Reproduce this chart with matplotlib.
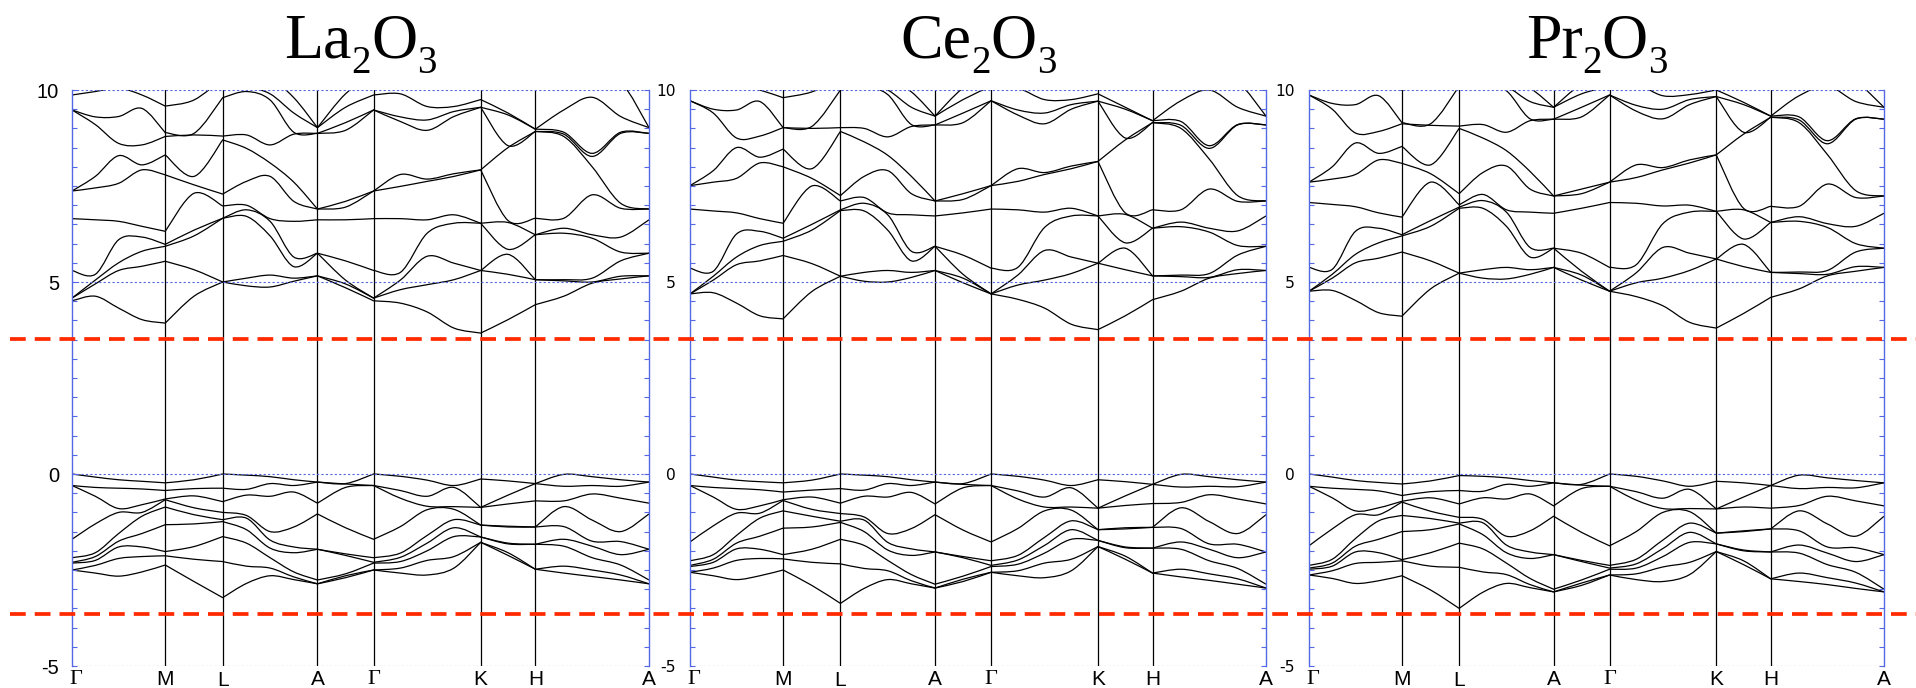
import numpy as np
import matplotlib
matplotlib.use('Agg')
import matplotlib.pyplot as plt
from matplotlib.lines import Line2D
from matplotlib.path import Path
from matplotlib.patches import PathPatch
from matplotlib.transforms import blended_transform_factory, offset_copy

# sample positions along the path (fraction of path length)
kgrid = [0.0, 0.0404, 0.0808, 0.1212, 0.1616, 0.2114, 0.2612, 0.3023, 0.3433,
         0.3844, 0.4254, 0.474, 0.5227, 0.5691, 0.6155, 0.6619, 0.7083, 0.7557,
         0.803, 0.8523, 0.9015, 0.9508, 1.0]
sym_pos = [0.0, 0.1616, 0.2612, 0.4254, 0.5227, 0.7083, 0.803, 1.0]
sym_idx = [0, 4, 6, 10, 12, 16, 18, 22]
sym_labels = ['Γ', 'M', 'L', 'A', 'Γ', 'K', 'H', 'A']

# energies (eV) at each k sample: valence (9 bands) and conduction (12 bands)
la_vb = [
    [0, -0.30, -0.30, -1.70, -2.18, -2.30, -2.32, -2.50, -2.50],
    [-0.08, -0.35, -0.58, -1.30, -2.05, -2.15, -2.25, -2.38, -2.58],
    [-0.15, -0.37, -0.90, -1.00, -1.55, -1.75, -1.90, -2.20, -2.66],
    [-0.19, -0.39, -0.80, -1.00, -1.10, -1.55, -1.90, -2.15, -2.55],
    [-0.23, -0.43, -0.65, -0.67, -0.86, -1.32, -2.02, -2.13, -2.37],
    [-0.15, -0.38, -0.57, -0.88, -1.06, -1.30, -1.89, -2.22, -2.80],
    [0, -0.37, -0.72, -1.00, -1.19, -1.24, -1.63, -2.28, -3.22],
    [-0.03, -0.40, -0.55, -1.08, -1.15, -1.45, -1.80, -2.40, -2.85],
    [-0.07, -0.25, -0.58, -1.50, -1.72, -1.93, -2.18, -2.45, -2.65],
    [-0.15, -0.30, -0.47, -1.38, -1.90, -2.05, -2.55, -2.68, -2.75],
    [-0.21, -0.21, -0.76, -1.04, -1.96, -1.96, -2.76, -2.86, -2.86],
    [-0.25, -0.26, -0.35, -1.40, -2.08, -2.12, -2.60, -2.65, -2.70],
    [0, -0.30, -0.30, -1.70, -2.18, -2.30, -2.32, -2.50, -2.50],
    [-0.06, -0.43, -0.63, -1.37, -2.06, -2.17, -2.28, -2.45, -2.58],
    [-0.16, -0.58, -0.84, -0.93, -1.60, -1.80, -2.00, -2.25, -2.63],
    [-0.30, -0.35, -0.85, -0.92, -1.19, -1.40, -1.63, -2.15, -2.45],
    [-0.13, -0.87, -0.87, -1.33, -1.33, -1.64, -1.64, -1.78, -1.78],
    [-0.18, -0.55, -0.78, -1.36, -1.38, -1.80, -1.82, -2.05, -2.12],
    [-0.25, -0.25, -0.70, -1.38, -1.38, -1.83, -1.83, -2.48, -2.48],
    [-0.01, -0.32, -0.70, -0.85, -1.37, -1.70, -1.88, -2.40, -2.58],
    [-0.07, -0.30, -0.52, -1.20, -1.75, -1.88, -2.18, -2.50, -2.67],
    [-0.15, -0.32, -0.63, -1.50, -1.76, -2.10, -2.37, -2.63, -2.76],
    [-0.21, -0.21, -0.76, -1.04, -1.96, -1.96, -2.76, -2.86, -2.86],
]
la_cb = [
    [4.51, 4.58, 4.58, 5.30, 6.65, 7.37, 7.37, 9.48, 9.48, 9.87, 10.4, 10.6],
    [4.63, 4.95, 5.05, 5.20, 6.62, 7.45, 7.75, 9.10, 9.30, 9.96, 10.4, 10.6],
    [4.32, 5.30, 5.50, 6.10, 6.58, 7.57, 8.29, 8.61, 9.31, 10.05, 10.4, 10.6],
    [4.02, 5.41, 5.80, 6.17, 6.45, 7.92, 8.05, 8.57, 9.52, 9.87, 10.4, 10.6],
    [3.93, 5.54, 5.93, 5.98, 6.32, 7.79, 8.31, 8.79, 8.89, 9.58, 10.4, 10.6],
    [4.63, 5.32, 6.20, 6.35, 7.31, 7.53, 7.75, 8.83, 8.87, 9.74, 10.4, 10.6],
    [5.00, 5.00, 6.66, 6.66, 6.98, 7.29, 8.70, 8.80, 9.80, 10.3, 10.4, 10.6],
    [4.90, 5.10, 6.71, 6.88, 7.00, 7.62, 8.48, 8.83, 9.96, 10.1, 10.4, 10.6],
    [4.87, 5.18, 6.20, 6.58, 6.65, 7.75, 8.10, 8.57, 9.74, 9.90, 10.3, 10.6],
    [5.02, 5.10, 5.40, 5.65, 6.58, 7.10, 7.60, 8.85, 8.90, 9.40, 9.80, 10.5],
    [5.16, 5.16, 5.75, 5.75, 6.62, 6.90, 6.90, 8.87, 8.87, 9.02, 9.02, 10.3],
    [4.85, 4.95, 5.05, 5.55, 6.62, 6.95, 7.10, 8.95, 9.15, 9.55, 9.90, 10.5],
    [4.51, 4.58, 4.58, 5.30, 6.65, 7.37, 7.37, 9.48, 9.48, 9.87, 10.4, 10.6],
    [4.45, 4.80, 5.05, 5.25, 6.65, 7.49, 7.80, 9.18, 9.30, 9.90, 10.3, 10.6],
    [4.22, 4.93, 5.67, 6.27, 6.62, 7.62, 7.68, 8.95, 9.22, 9.57, 10.3, 10.6],
    [3.80, 5.06, 5.49, 6.53, 6.75, 7.75, 7.82, 9.31, 9.44, 9.57, 10.3, 10.6],
    [3.67, 5.30, 5.30, 6.53, 6.53, 7.92, 7.92, 9.55, 9.55, 9.75, 10.3, 10.6],
    [4.02, 5.20, 5.72, 5.85, 6.55, 6.60, 8.50, 8.55, 9.35, 9.40, 10.3, 10.6],
    [4.41, 5.06, 5.06, 6.23, 6.23, 6.66, 8.92, 8.92, 8.98, 8.98, 10.3, 10.6],
    [4.63, 5.03, 5.06, 6.27, 6.40, 6.66, 8.79, 8.85, 8.90, 9.48, 10.3, 10.6],
    [4.97, 5.00, 5.10, 6.14, 6.23, 7.27, 8.00, 8.27, 8.35, 9.81, 10.3, 10.6],
    [5.08, 5.15, 5.55, 5.78, 6.17, 6.92, 7.05, 8.87, 8.90, 9.31, 10.2, 10.5],
    [5.16, 5.16, 5.75, 5.75, 6.62, 6.90, 6.90, 8.87, 8.87, 9.02, 9.02, 10.3],
]

ce_vb = [
    [0, -0.30, -0.30, -1.77, -2.26, -2.38, -2.41, -2.56, -2.56],
    [-0.08, -0.35, -0.60, -1.35, -2.10, -2.22, -2.30, -2.45, -2.65],
    [-0.16, -0.38, -0.92, -1.02, -1.60, -1.80, -1.95, -2.25, -2.75],
    [-0.20, -0.41, -0.83, -1.02, -1.15, -1.62, -1.96, -2.20, -2.65],
    [-0.23, -0.47, -0.67, -0.69, -0.96, -1.41, -2.10, -2.21, -2.50],
    [-0.16, -0.42, -0.60, -0.92, -1.10, -1.38, -1.96, -2.30, -2.90],
    [0, -0.38, -0.76, -1.03, -1.23, -1.26, -1.70, -2.34, -3.37],
    [-0.03, -0.42, -0.58, -1.12, -1.20, -1.50, -1.86, -2.46, -2.98],
    [-0.07, -0.25, -0.60, -1.55, -1.78, -1.98, -2.25, -2.52, -2.75],
    [-0.15, -0.30, -0.48, -1.42, -1.95, -2.12, -2.62, -2.78, -2.86],
    [-0.21, -0.21, -0.78, -1.06, -2.03, -2.03, -2.87, -2.97, -2.97],
    [-0.25, -0.27, -0.36, -1.46, -2.15, -2.18, -2.66, -2.74, -2.80],
    [0, -0.30, -0.30, -1.77, -2.26, -2.38, -2.41, -2.56, -2.56],
    [-0.06, -0.44, -0.65, -1.42, -2.12, -2.24, -2.35, -2.52, -2.65],
    [-0.16, -0.60, -0.86, -0.96, -1.65, -1.86, -2.06, -2.32, -2.70],
    [-0.30, -0.36, -0.86, -0.94, -1.22, -1.45, -1.70, -2.22, -2.52],
    [-0.15, -0.89, -0.89, -1.45, -1.45, -1.73, -1.73, -1.89, -1.89],
    [-0.20, -0.57, -0.82, -1.40, -1.43, -1.90, -1.92, -2.14, -2.22],
    [-0.27, -0.27, -0.77, -1.39, -1.39, -1.93, -1.93, -2.58, -2.58],
    [-0.01, -0.34, -0.74, -0.88, -1.42, -1.77, -1.96, -2.48, -2.68],
    [-0.07, -0.32, -0.54, -1.24, -1.82, -1.96, -2.26, -2.60, -2.77],
    [-0.15, -0.33, -0.65, -1.55, -1.83, -2.18, -2.46, -2.73, -2.87],
    [-0.21, -0.21, -0.78, -1.06, -2.03, -2.03, -2.87, -2.97, -2.97],
]
ce_cb = [
    [4.69, 4.69, 4.69, 5.36, 6.90, 7.51, 7.51, 9.72, 9.72, 10.1, 10.4, 10.6],
    [4.72, 5.05, 5.15, 5.28, 6.85, 7.60, 7.90, 9.40, 9.50, 10.05, 10.4, 10.6],
    [4.45, 5.45, 5.65, 6.25, 6.80, 7.70, 8.50, 8.75, 9.48, 10.15, 10.4, 10.6],
    [4.12, 5.55, 5.95, 6.32, 6.65, 8.10, 8.25, 8.80, 9.70, 10.0, 10.4, 10.6],
    [4.04, 5.69, 6.06, 6.14, 6.53, 8.00, 8.46, 9.02, 9.02, 9.80, 10.4, 10.6],
    [4.75, 5.48, 6.35, 6.50, 7.50, 7.70, 7.95, 9.00, 9.05, 9.95, 10.4, 10.6],
    [5.15, 5.15, 6.86, 6.88, 7.11, 7.25, 8.92, 9.02, 10.0, 10.3, 10.4, 10.6],
    [5.02, 5.25, 6.85, 7.05, 7.20, 7.75, 8.65, 9.00, 10.1, 10.2, 10.4, 10.6],
    [5.00, 5.30, 6.35, 6.75, 6.80, 7.90, 8.30, 8.78, 9.88, 10.0, 10.3, 10.6],
    [5.12, 5.25, 5.55, 5.80, 6.75, 7.30, 7.75, 9.05, 9.10, 9.55, 9.95, 10.5],
    [5.30, 5.30, 5.93, 5.93, 6.72, 7.11, 7.11, 9.09, 9.09, 9.32, 9.32, 10.3],
    [4.98, 5.10, 5.20, 5.70, 6.80, 7.15, 7.30, 9.15, 9.40, 9.75, 10.05, 10.5],
    [4.69, 4.69, 4.69, 5.36, 6.90, 7.51, 7.51, 9.72, 9.72, 10.1, 10.4, 10.6],
    [4.55, 4.92, 5.18, 5.38, 6.88, 7.62, 7.95, 9.35, 9.48, 10.05, 10.3, 10.6],
    [4.32, 5.05, 5.82, 6.42, 6.82, 7.80, 7.85, 9.12, 9.40, 9.75, 10.3, 10.6],
    [3.90, 5.22, 5.65, 6.72, 6.92, 7.95, 8.02, 9.50, 9.62, 9.75, 10.3, 10.6],
    [3.76, 5.49, 5.49, 6.72, 6.72, 8.14, 8.14, 9.71, 9.71, 9.90, 10.3, 10.6],
    [4.12, 5.32, 5.88, 6.02, 6.76, 6.80, 8.70, 8.75, 9.50, 9.55, 10.3, 10.6],
    [4.54, 5.16, 5.16, 6.40, 6.40, 6.88, 9.15, 9.15, 9.20, 9.20, 10.3, 10.6],
    [4.76, 5.14, 5.18, 6.44, 6.56, 6.88, 9.00, 9.08, 9.18, 9.72, 10.3, 10.6],
    [5.10, 5.12, 5.22, 6.30, 6.40, 7.42, 8.20, 8.48, 8.55, 10.0, 10.3, 10.6],
    [5.22, 5.32, 5.70, 5.95, 6.33, 7.10, 7.25, 9.09, 9.10, 9.55, 10.2, 10.5],
    [5.30, 5.30, 5.93, 5.93, 6.72, 7.11, 7.11, 9.09, 9.09, 9.32, 9.32, 10.3],
]

pr_vb = [
    [0, -0.32, -0.32, -1.87, -2.38, -2.45, -2.48, -2.63, -2.63],
    [-0.08, -0.37, -0.62, -1.43, -2.22, -2.32, -2.40, -2.52, -2.72],
    [-0.17, -0.40, -0.96, -1.06, -1.68, -1.88, -2.03, -2.33, -2.85],
    [-0.22, -0.44, -0.88, -1.06, -1.22, -1.70, -2.05, -2.30, -2.78],
    [-0.26, -0.56, -0.71, -0.73, -1.08, -1.50, -2.23, -2.26, -2.65],
    [-0.18, -0.46, -0.62, -0.97, -1.16, -1.45, -2.05, -2.40, -3.02],
    [-0.04, -0.43, -0.78, -1.13, -1.28, -1.30, -1.80, -2.43, -3.50],
    [-0.06, -0.45, -0.62, -1.18, -1.27, -1.58, -1.95, -2.55, -3.08],
    [-0.10, -0.27, -0.65, -1.62, -1.85, -2.05, -2.32, -2.62, -2.85],
    [-0.17, -0.32, -0.52, -1.48, -2.03, -2.20, -2.72, -2.88, -2.96],
    [-0.23, -0.23, -0.83, -1.10, -2.10, -2.10, -3.00, -3.07, -3.07],
    [-0.27, -0.29, -0.38, -1.52, -2.25, -2.28, -2.76, -2.84, -2.90],
    [0, -0.32, -0.32, -1.87, -2.38, -2.45, -2.48, -2.63, -2.63],
    [-0.06, -0.46, -0.68, -1.50, -2.22, -2.34, -2.45, -2.60, -2.75],
    [-0.18, -0.63, -0.90, -1.00, -1.72, -1.94, -2.15, -2.42, -2.80],
    [-0.32, -0.40, -0.90, -0.98, -1.28, -1.52, -1.78, -2.30, -2.62],
    [-0.19, -0.91, -0.91, -1.54, -1.54, -1.82, -1.82, -2.02, -2.02],
    [-0.23, -0.60, -0.86, -1.48, -1.50, -1.98, -2.00, -2.26, -2.36],
    [-0.30, -0.30, -0.89, -1.43, -1.43, -2.03, -2.03, -2.73, -2.73],
    [-0.03, -0.38, -0.82, -0.96, -1.48, -1.85, -2.06, -2.58, -2.80],
    [-0.10, -0.35, -0.58, -1.30, -1.90, -2.06, -2.36, -2.70, -2.88],
    [-0.17, -0.36, -0.70, -1.62, -1.92, -2.28, -2.56, -2.84, -2.98],
    [-0.23, -0.23, -0.83, -1.10, -2.10, -2.10, -3.00, -3.07, -3.07],
]
pr_cb = [
    [4.76, 4.76, 4.76, 5.38, 7.07, 7.60, 7.60, 9.87, 9.87, 10.1, 10.4, 10.6],
    [4.78, 5.10, 5.20, 5.33, 7.02, 7.68, 8.00, 9.50, 9.65, 10.1, 10.4, 10.6],
    [4.52, 5.50, 5.72, 6.32, 6.96, 7.80, 8.62, 8.88, 9.62, 10.2, 10.4, 10.6],
    [4.20, 5.62, 6.02, 6.40, 6.80, 8.18, 8.35, 8.92, 9.85, 10.1, 10.4, 10.6],
    [4.11, 5.78, 6.20, 6.23, 6.69, 8.09, 8.53, 9.12, 9.15, 10.0, 10.4, 10.6],
    [4.82, 5.55, 6.45, 6.60, 7.60, 7.82, 8.05, 9.08, 9.12, 10.1, 10.4, 10.6],
    [5.23, 5.23, 6.92, 6.95, 7.01, 7.30, 9.00, 9.06, 10.1, 10.3, 10.4, 10.6],
    [5.10, 5.32, 6.92, 7.12, 7.28, 7.85, 8.75, 9.10, 10.2, 10.3, 10.4, 10.6],
    [5.08, 5.38, 6.45, 6.82, 6.88, 8.02, 8.42, 8.90, 9.98, 10.1, 10.3, 10.6],
    [5.20, 5.32, 5.65, 5.90, 6.82, 7.42, 7.88, 9.20, 9.25, 9.70, 10.05, 10.5],
    [5.38, 5.38, 5.88, 5.88, 6.79, 7.24, 7.24, 9.24, 9.24, 9.55, 9.55, 10.3],
    [5.05, 5.18, 5.28, 5.75, 6.92, 7.30, 7.42, 9.30, 9.55, 9.90, 10.15, 10.5],
    [4.76, 4.76, 4.76, 5.38, 7.07, 7.60, 7.60, 9.87, 9.87, 10.1, 10.4, 10.6],
    [4.62, 4.98, 5.24, 5.45, 7.05, 7.72, 8.05, 9.45, 9.60, 10.15, 10.3, 10.6],
    [4.38, 5.10, 5.90, 6.52, 6.98, 7.92, 7.98, 9.25, 9.50, 9.85, 10.3, 10.6],
    [3.95, 5.30, 5.75, 6.82, 7.00, 8.10, 8.18, 9.62, 9.75, 9.88, 10.3, 10.6],
    [3.80, 5.60, 5.60, 6.84, 6.84, 8.31, 8.31, 9.83, 9.83, 10.0, 10.3, 10.6],
    [4.18, 5.40, 5.98, 6.12, 6.88, 6.92, 8.85, 8.90, 9.62, 9.68, 10.3, 10.6],
    [4.60, 5.25, 5.25, 6.55, 6.55, 6.97, 9.29, 9.29, 9.32, 9.32, 10.3, 10.6],
    [4.82, 5.22, 5.26, 6.58, 6.70, 6.97, 9.15, 9.22, 9.30, 9.85, 10.3, 10.6],
    [5.16, 5.20, 5.30, 6.42, 6.52, 7.55, 8.32, 8.60, 8.68, 10.1, 10.3, 10.6],
    [5.28, 5.40, 5.78, 6.00, 6.45, 7.20, 7.38, 9.24, 9.25, 9.70, 10.2, 10.5],
    [5.38, 5.38, 5.88, 5.88, 6.79, 7.24, 7.24, 9.24, 9.24, 9.55, 9.55, 10.3],
]

# formula pieces: (text, is_subscript)
titles = [
    [('La', False), ('2', True), ('O', False), ('3', True)],
    [('Ce', False), ('2', True), ('O', False), ('3', True)],
    [('Pr', False), ('2', True), ('O', False), ('3', True)],
]
gap_lines = [3.52, -3.65]   # band-edge guides, eV

BLUE = '#5468e4'
RED = '#ff2a00'
W, H = 1916, 688


def band_path(x, y):
    # smooth curve through the samples, kinked only at high-symmetry points
    verts = [(x[0], y[0])]
    codes = [Path.MOVETO]
    for a, b in zip(sym_idx[:-1], sym_idx[1:]):
        px = np.array(x[a:b + 1])
        py = np.array(y[a:b + 1])
        n = len(px)
        for i in range(n - 1):
            i0 = max(i - 1, 0)
            i3 = min(i + 2, n - 1)
            c1 = (px[i] + (px[i + 1] - px[i0]) / 6, py[i] + (py[i + 1] - py[i0]) / 6)
            c2 = (px[i + 1] - (px[i3] - px[i]) / 6, py[i + 1] - (py[i3] - py[i]) / 6)
            verts += [c1, c2, (px[i + 1], py[i + 1])]
            codes += [Path.CURVE4] * 3
    return Path(verts, codes)


def draw_formula(fig, renderer, cx, pieces):
    # chemical formula with real lowered subscripts, centred on cx (pixels)
    texts = []
    for s, sub in pieces:
        t = fig.text(0, 0, s, fontfamily='Liberation Serif',
                     fontsize=28 if sub else 46, va='baseline', ha='left')
        texts.append((t, sub))
    widths = [t.get_window_extent(renderer).width for t, _ in texts]
    x = cx - sum(widths) / 2
    for (t, sub), wd in zip(texts, widths):
        base = H - 58 - (15 if sub else 0)
        t.set_position((x / W, base / H))
        x += wd


fig = plt.figure(figsize=(W / 100, H / 100), dpi=100)
renderer = fig.canvas.get_renderer()

# axes boxes in pixels: left, width
boxes = [(72, 577), (690, 576), (1309, 575)]
tick_fonts = [('Liberation Sans', 14.5, 9.4), ('DejaVu Sans', 11.2, 10.0), ('DejaVu Sans', 11.2, 10.5)]
data = [(la_vb, la_cb), (ce_vb, ce_cb), (pr_vb, pr_cb)]

axes = []
for i, ((x0, w), (vb, cb)) in enumerate(zip(boxes, data)):
    ax = fig.add_axes([x0 / W, 22 / H, w / W, 576 / H])
    axes.append(ax)

    for block in (vb, cb):
        bands = np.sort(np.array(block), axis=1).T
        for e in bands:
            ax.add_patch(PathPatch(band_path(kgrid, e), facecolor='none',
                                   edgecolor='black', lw=0.9))

    for x in sym_pos[1:-1]:
        ax.axvline(x, color='black', lw=0.9, zorder=3)
    for y in (-5, 0, 5, 10):
        ax.axhline(y, color=BLUE, lw=0.8, ls=(0, (2, 2)), zorder=3)

    ax.set_xlim(0, 1)
    ax.set_ylim(-5, 10)
    ax.set_xticks([])
    for s in ('top', 'bottom'):
        ax.spines[s].set_visible(False)
    for s in ('left', 'right'):
        ax.spines[s].set_color(BLUE)
        ax.spines[s].set_linewidth(1.0)

    fam, size, pad = tick_fonts[i]
    yt = np.arange(-5, 10.01, 0.5)
    ax.set_yticks(yt)
    ax.set_yticklabels(['%d' % v if v % 5 == 0 else '' for v in yt],
                       fontfamily=fam, fontsize=size)
    ax.tick_params(axis='y', which='both', direction='in', length=3.6, width=0.8,
                   color=BLUE, left=True, right=True, pad=pad)

    # high-symmetry labels under the frame
    for j, (x, lab) in enumerate(zip(sym_pos, sym_labels)):
        dx = 4 if j == 0 else 0
        dy = -5 if lab == 'L' else -4
        tr = offset_copy(ax.transData, fig=fig, x=dx, y=dy, units='dots')
        if lab == 'Γ':
            ax.text(x, -5, lab, transform=tr, ha='center', va='top',
                    fontfamily='Liberation Serif', fontsize=16, clip_on=False)
        else:
            ax.text(x, -5, lab, transform=tr, ha='center', va='top',
                    fontfamily='Liberation Sans', fontsize=15, clip_on=False)

    draw_formula(fig, renderer, x0 + w / 2, titles[i])

# red dashed guides running across the whole figure
tr = blended_transform_factory(fig.transFigure, axes[0].transData)
for y in gap_lines:
    fig.add_artist(Line2D([10 / W, 1.0], [y, y], transform=tr, color=RED, lw=2.7,
                          dashes=(4.2, 2.4), zorder=10))

fig.savefig('out.png', dpi=100)
